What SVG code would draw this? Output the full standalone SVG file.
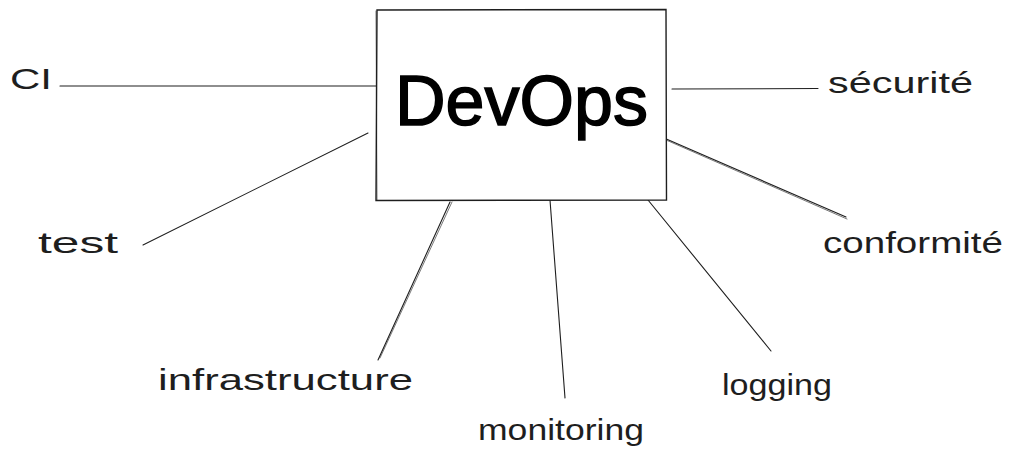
<svg xmlns="http://www.w3.org/2000/svg" width="1017" height="465" viewBox="0 0 1017 465">
<style>
.bg{fill:#ffffff}
.box{fill:#ffffff;stroke:#1e1e1e;stroke-width:1.4;stroke-linecap:round}
.ln{fill:none;stroke:#1e1e1e;stroke-width:1.1;stroke-linecap:round}
.ln2{fill:none;stroke:#1e1e1e;stroke-width:0.6;stroke-linecap:round}
.lbl{font-family:"Liberation Sans","DejaVu Sans",sans-serif;font-size:30px;fill:#1e1e1e}
.big{font-family:"Liberation Sans","DejaVu Sans",sans-serif;font-size:70px;fill:#000000;stroke:#000000;stroke-width:1.5}
</style>
<rect class="bg" x="0" y="0" width="1017" height="465"/>
<g id="connectors">
<path class="ln" d="M60 86 L376 86"/>
<path class="ln" d="M143 245 L368 133"/>
<path class="ln" d="M672 89 L818 88.5"/>
<path class="ln" d="M664 138 L846 217"/>
<path class="ln2" d="M666 140 L847 219"/>
<path class="ln" d="M450 202 L378 360"/>
<path class="ln2" d="M452 202 L380 358"/>
<path class="ln" d="M550 200 L565 398"/>
<path class="ln" d="M648 200 L771 351"/>
</g>
<g id="devops">
<path class="box" d="M377 10 L666 9.5 L666.5 200 L376 200.5 Z"/>
<path class="ln2" d="M376 11 L377 200"/>
<text class="big" x="395" y="125" textLength="253" lengthAdjust="spacingAndGlyphs">DevOps</text>
</g>
<g id="ci"><text class="lbl" x="10" y="89" textLength="42" lengthAdjust="spacingAndGlyphs">CI</text></g>
<g id="test"><text class="lbl" x="38" y="253" textLength="80" lengthAdjust="spacingAndGlyphs">test</text></g>
<g id="securite"><text class="lbl" x="828" y="93" textLength="145" lengthAdjust="spacingAndGlyphs">sécurité</text></g>
<g id="conformite"><text class="lbl" x="823" y="253" textLength="180" lengthAdjust="spacingAndGlyphs">conformité</text></g>
<g id="infrastructure"><text class="lbl" x="158" y="390" textLength="255" lengthAdjust="spacingAndGlyphs">infrastructure</text></g>
<g id="monitoring"><text class="lbl" x="478" y="440" textLength="166" lengthAdjust="spacingAndGlyphs">monitoring</text></g>
<g id="logging"><text class="lbl" x="722" y="395" textLength="110" lengthAdjust="spacingAndGlyphs">logging</text></g>
</svg>
